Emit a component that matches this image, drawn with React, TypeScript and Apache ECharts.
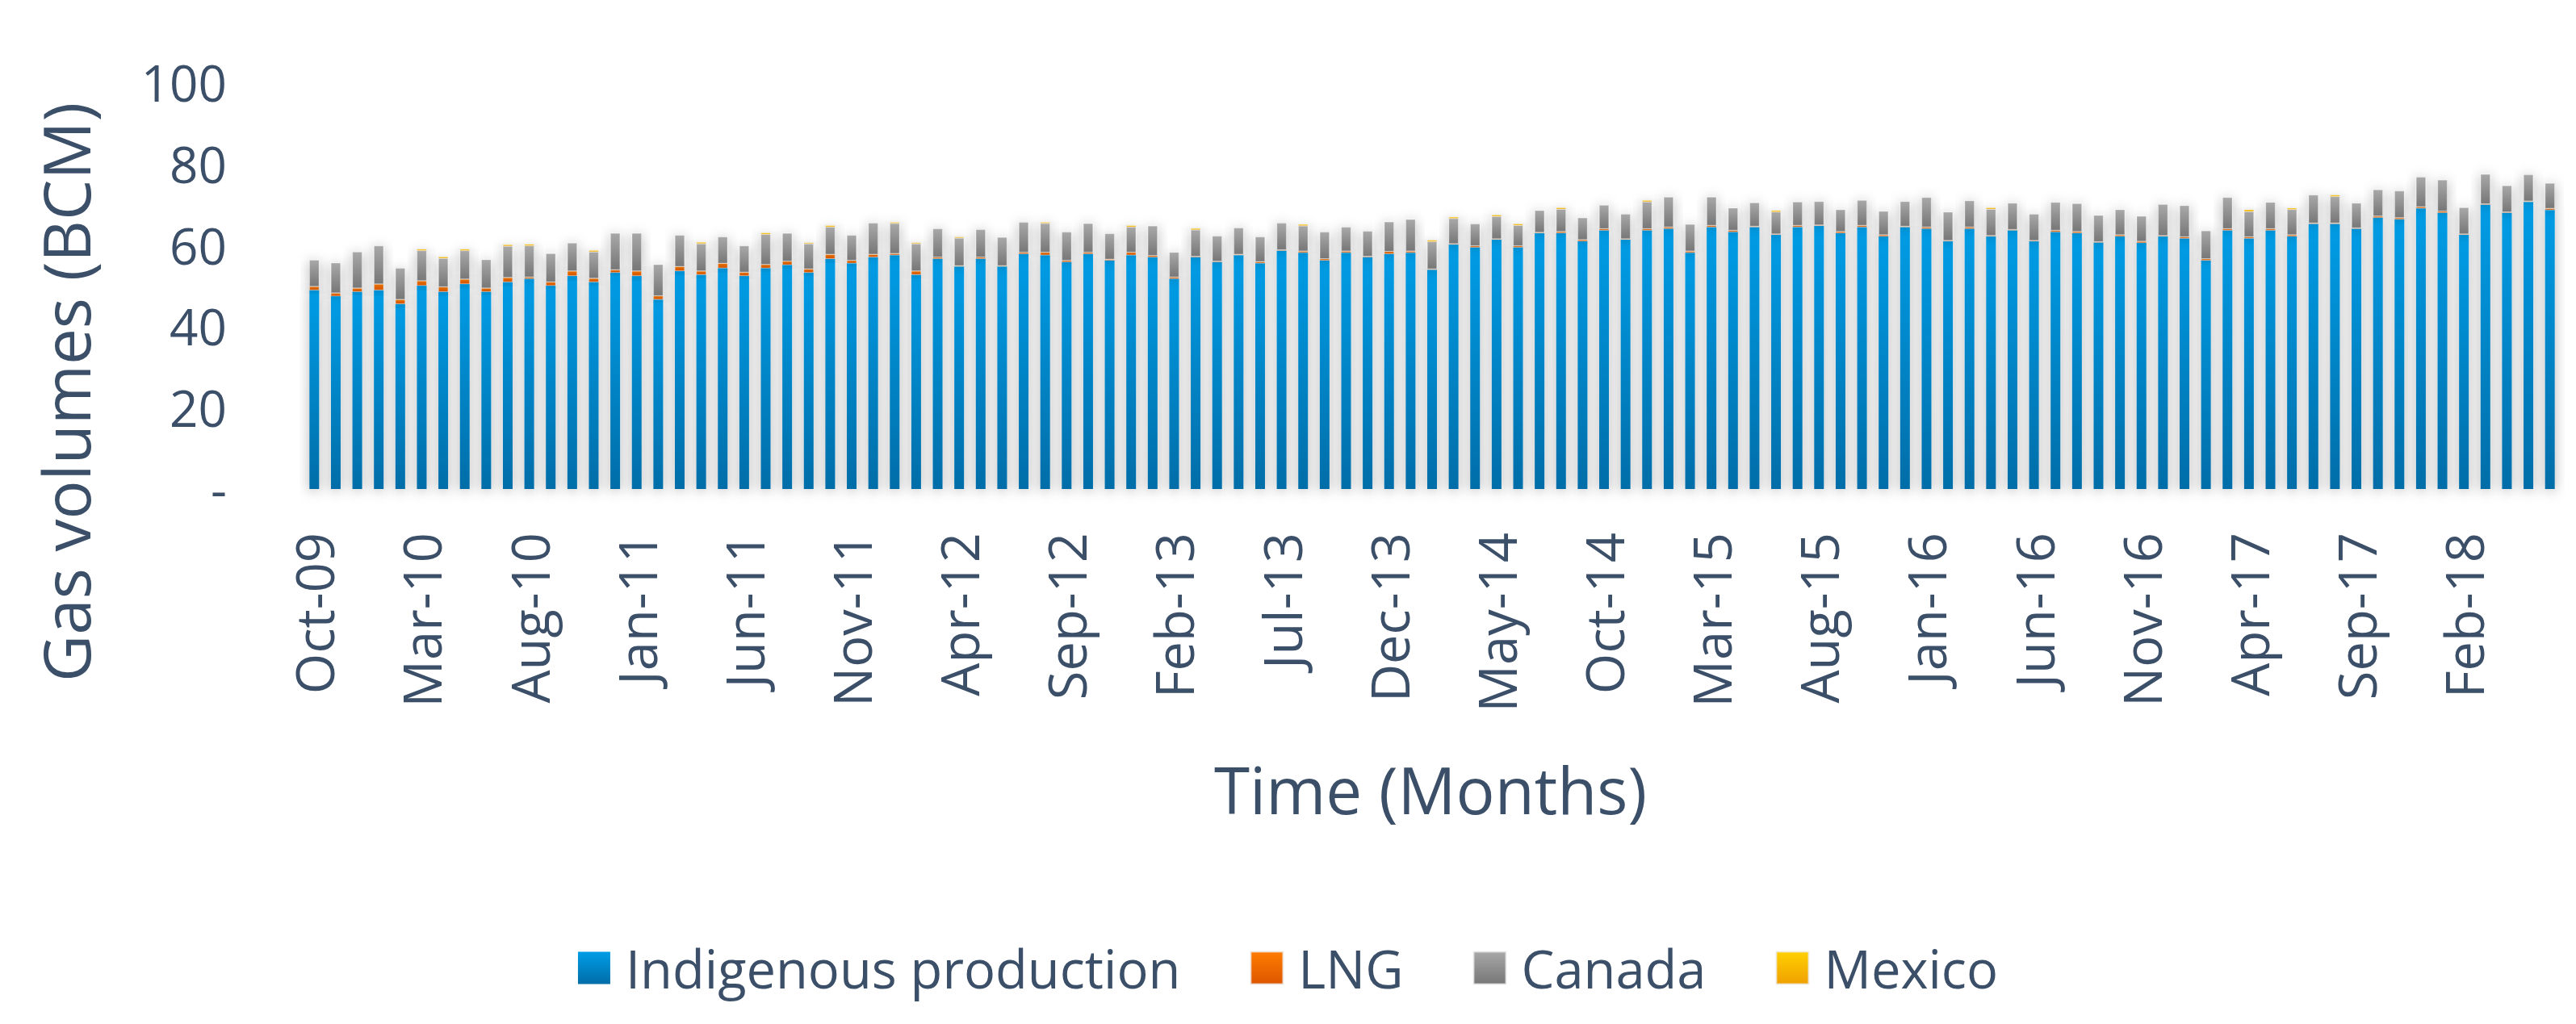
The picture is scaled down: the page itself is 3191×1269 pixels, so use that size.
import React, { useEffect, useRef } from "react";
import * as echarts from "echarts";

const months: string[] = [
  "Oct-09","Nov-09","Dec-09","Jan-10","Feb-10","Mar-10","Apr-10","May-10","Jun-10","Jul-10","Aug-10","Sep-10","Oct-10","Nov-10","Dec-10",
  "Jan-11","Feb-11","Mar-11","Apr-11","May-11","Jun-11","Jul-11","Aug-11","Sep-11","Oct-11","Nov-11","Dec-11",
  "Jan-12","Feb-12","Mar-12","Apr-12","May-12","Jun-12","Jul-12","Aug-12","Sep-12","Oct-12","Nov-12","Dec-12",
  "Jan-13","Feb-13","Mar-13","Apr-13","May-13","Jun-13","Jul-13","Aug-13","Sep-13","Oct-13","Nov-13","Dec-13",
  "Jan-14","Feb-14","Mar-14","Apr-14","May-14","Jun-14","Jul-14","Aug-14","Sep-14","Oct-14","Nov-14","Dec-14",
  "Jan-15","Feb-15","Mar-15","Apr-15","May-15","Jun-15","Jul-15","Aug-15","Sep-15","Oct-15","Nov-15","Dec-15",
  "Jan-16","Feb-16","Mar-16","Apr-16","May-16","Jun-16","Jul-16","Aug-16","Sep-16","Oct-16","Nov-16","Dec-16",
  "Jan-17","Feb-17","Mar-17","Apr-17","May-17","Jun-17","Jul-17","Aug-17","Sep-17","Oct-17","Nov-17","Dec-17",
  "Jan-18","Feb-18","Mar-18","Apr-18","May-18","Jun-18"
];

const indigenous: number[] = [
  48.9, 47.4, 48.5, 48.9, 45.5, 50.0, 48.5, 50.4, 48.5, 50.9, 51.7, 50.0, 52.4, 50.9, 53.2,
  52.4, 46.6, 53.6, 52.7, 54.3, 52.4, 54.3, 55.1, 53.2, 56.6, 55.5, 57.0,
  57.5, 52.7, 56.6, 54.7, 56.6, 54.7, 57.8, 57.5, 55.8, 57.8, 56.2, 57.5,
  57.0, 51.7, 57.0, 55.8, 57.5, 55.5, 58.6, 58.1, 56.2, 58.1, 57.0, 57.8,
  58.1, 53.9, 60.1, 59.4, 61.3, 59.4, 62.9, 62.9, 60.9, 63.6, 61.3, 63.6,
  64.0, 58.1, 64.4, 63.2, 64.4, 62.5, 64.4, 64.7, 62.9, 64.4, 62.1, 64.4,
  64.0, 60.9, 64.0, 62.1, 63.6, 60.9, 63.2, 62.9, 60.6, 62.1, 60.5, 62.1,
  61.6, 56.2, 63.6, 61.6, 63.6, 62.1, 65.2, 65.2, 64.0, 66.7, 66.3, 69.0,
  67.9, 62.5, 69.9, 67.9, 70.6, 68.6
];

const lng: number[] = [
  0.9, 0.8, 0.9, 1.5, 1.1, 1.2, 1.2, 1.2, 0.9, 1.1, 0.4, 0.9, 1.2, 0.9, 0.7,
  1.2, 0.9, 1.1, 0.9, 1.2, 0.9, 0.9, 0.9, 0.9, 1.1, 0.7, 0.7,
  0.4, 0.9, 0.4, 0.2, 0.4, 0.2, 0.4, 0.7, 0.4, 0.4, 0.3, 0.7,
  0.4, 0.4, 0.2, 0.2, 0.2, 0.4, 0.2, 0.4, 0.4, 0.4, 0.2, 0.6,
  0.4, 0.2, 0.2, 0.4, 0.2, 0.4, 0.2, 0.4, 0.4, 0.4, 0.2, 0.4,
  0.4, 0.4, 0.4, 0.4, 0.2, 0.2, 0.4, 0.2, 0.4, 0.4, 0.4, 0.2,
  0.4, 0.2, 0.4, 0.2, 0.2, 0.2, 0.4, 0.4, 0.2, 0.4, 0.4, 0.2,
  0.4, 0.4, 0.4, 0.4, 0.4, 0.4, 0.2, 0.2, 0.2, 0.4, 0.4, 0.4,
  0.4, 0.2, 0.2, 0.2, 0.2, 0.4
];

const canada: number[] = [
  6.5, 7.4, 8.9, 9.4, 7.7, 7.4, 7.0, 7.0, 7.0, 7.7, 7.7, 7.0, 6.9, 6.5, 9.0,
  9.3, 7.7, 7.7, 6.7, 6.5, 6.5, 7.4, 6.9, 6.2, 6.7, 6.2, 7.7,
  7.4, 6.7, 7.0, 6.8, 6.8, 7.0, 7.4, 7.1, 7.0, 7.1, 6.3, 6.2,
  7.3, 6.1, 6.5, 6.2, 6.5, 6.1, 6.6, 6.2, 6.6, 5.9, 6.2, 7.3,
  7.8, 6.7, 6.2, 5.4, 5.5, 5.0, 5.4, 5.5, 5.4, 5.8, 6.1, 6.6,
  7.4, 6.6, 7.0, 5.5, 5.8, 5.4, 5.8, 5.8, 5.4, 6.2, 5.8, 6.1,
  7.3, 7.0, 6.5, 6.5, 6.5, 6.5, 6.9, 6.9, 6.5, 6.2, 6.2, 7.7,
  7.7, 6.9, 7.7, 6.2, 6.5, 6.2, 6.9, 6.5, 6.1, 6.5, 6.6, 7.3,
  7.7, 6.5, 7.3, 6.5, 6.5, 6.2
];

const mexico: number[] = [
  0, 0, 0, 0, 0, 0.4, 0.4, 0.4, 0, 0.4, 0.4, 0, 0, 0.4, 0,
  0, 0, 0, 0.4, 0, 0, 0.4, 0, 0.3, 0.4, 0, 0,
  0.3, 0.3, 0, 0.3, 0, 0, 0, 0.3, 0, 0, 0, 0.4,
  0, 0, 0.4, 0, 0, 0, 0, 0.4, 0, 0, 0, 0,
  0, 0.4, 0.4, 0, 0.4, 0.4, 0, 0.4, 0, 0, 0, 0.4,
  0, 0, 0, 0, 0, 0.4, 0, 0, 0, 0, 0, 0,
  0, 0, 0, 0.4, 0, 0, 0, 0, 0, 0, 0, 0,
  0, 0, 0, 0.5, 0, 0.4, 0, 0.4, 0, 0, 0, 0,
  0, 0, 0, 0, 0, 0
];

const yTickLabels: string[] = ["-", "20", "40", "60", "80", "100"];
const seriesNames: string[] = ["Indigenous production", "LNG", "Canada", "Mexico"];

const TEXT = "#3B4F69";
const FONT = "Open Sans";

function grad(top: string, bottom: string) {
  return new echarts.graphic.LinearGradient(0, 0, 0, 1, [
    { offset: 0, color: top },
    { offset: 1, color: bottom },
  ]);
}

export default function App() {
  const ref = useRef<HTMLDivElement>(null);
  useEffect(() => {
    if (!ref.current) return;
    const chart = echarts.init(ref.current, undefined, { renderer: "svg" });
    const shadow = {
      shadowBlur: 16,
      shadowColor: "rgba(0,0,0,0.3)",
      shadowOffsetY: 2,
    };
    const colors = [
      grad("#009DE6", "#006DA8"),
      grad("#FF7C00", "#DD5600"),
      grad("#A8A8A8", "#777777"),
      grad("#FFD000", "#EFA000"),
    ];
    const dataSets = [indigenous, lng, canada, mexico];
    const series = seriesNames.map((name, i) => ({
      name,
      type: "bar",
      stack: "total",
      barWidth: 12,
      data: dataSets[i],
      itemStyle: {
        color: colors[i],
        borderColor: "rgba(235,235,235,0.7)",
        borderWidth: i === 0 ? 0 : 0.5,
        ...shadow,
      },
      emphasis: { disabled: true },
    }));
    chart.setOption({
      animation: false,
      backgroundColor: "#ffffff",
      textStyle: { fontFamily: FONT, color: TEXT },
      grid: { left: 376, right: 19, top: 102, bottom: 663 },
      legend: {
        data: seriesNames,
        left: "center",
        top: 1162,
        icon: "rect",
        itemWidth: 40,
        itemHeight: 40,
        itemGap: 86,
        textStyle: { fontFamily: FONT, fontSize: 65, color: TEXT, padding: [0, 0, 0, 14] },
      },
      xAxis: {
        type: "category",
        data: months,
        offset: 4,
        axisLine: {
          show: true,
          lineStyle: {
            color: "#DDE3EA",
            width: 7,
            shadowBlur: 6,
            shadowColor: "rgba(0,0,0,0.18)",
            shadowOffsetY: 3,
          },
        },
        axisTick: { show: false },
        axisLabel: {
          interval: 4,
          rotate: 90,
          margin: 50,
          fontFamily: FONT,
          fontSize: 65,
          color: TEXT,
        },
      },
      yAxis: {
        type: "value",
        min: 0,
        max: 100,
        interval: 20,
        axisLine: { show: false },
        axisTick: { show: false },
        splitLine: { show: false },
        axisLabel: {
          margin: 95,
          fontFamily: FONT,
          fontSize: 62,
          color: TEXT,
          formatter: (v: number) => yTickLabels[Math.round(v / 20)] ?? String(v),
        },
      },
      graphic: [
        {
          type: "text",
          x: 80,
          y: 486,
          rotation: Math.PI / 2,
          style: {
            text: "Gas volumes (BCM)",
            fontFamily: FONT,
            fontSize: 80,
            fill: TEXT,
            textAlign: "center",
            textVerticalAlign: "middle",
          },
        },
        {
          type: "text",
          x: 1772,
          y: 977,
          style: {
            text: "Time (Months)",
            fontFamily: FONT,
            fontSize: 80,
            fill: TEXT,
            textAlign: "center",
            textVerticalAlign: "middle",
          },
        },
      ],
      series,
    });
    return () => chart.dispose();
  }, []);
  return (
    <div
      ref={ref}
      style={{ position: "absolute", left: 0, top: 0, width: 3191, height: 1269 }}
    />
  );
}
